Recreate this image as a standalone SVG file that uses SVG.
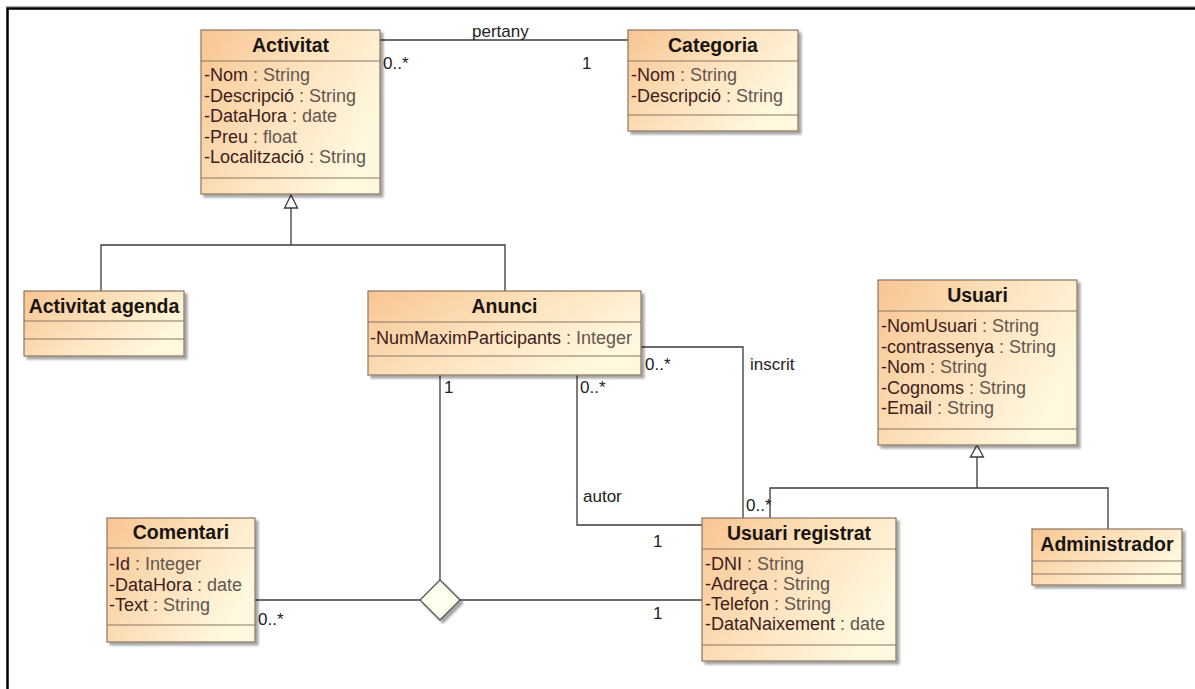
<svg xmlns="http://www.w3.org/2000/svg" width="1195" height="689" viewBox="0 0 1195 689">
<defs>
<linearGradient id="g" x1="0" y1="0" x2="1" y2="0.5">
<stop offset="0" stop-color="#F8C593"/>
<stop offset="0.55" stop-color="#FDE3BE"/>
<stop offset="1" stop-color="#FFF8DE"/>
</linearGradient>
<filter id="sh" x="-5%" y="-5%" width="115%" height="115%">
<feOffset dx="3" dy="3" in="SourceAlpha"/>
<feGaussianBlur stdDeviation="1.2"/>
<feComponentTransfer><feFuncA type="linear" slope="0.35"/></feComponentTransfer>
<feMerge><feMergeNode/><feMergeNode in="SourceGraphic"/></feMerge>
</filter>
</defs>
<style>
.box{fill:url(#g);stroke:#8a7662;stroke-width:1.2;filter:url(#sh)}
.div{stroke:#8a7662;stroke-width:1.2}
.ti{font-family:"Liberation Sans",Arial,sans-serif;font-weight:bold;font-size:19.5px;fill:#1a1410;text-anchor:middle}
.at{font-family:"Liberation Sans",Arial,sans-serif;font-size:18px}
.n{fill:#3d1c1c}
.t{fill:#635650}
.ln{fill:none;stroke:#3a3a3a;stroke-width:1.3}
.lb{font-family:"Liberation Sans",Arial,sans-serif;font-size:17px;fill:#222}
.tri{fill:#fff;stroke:#3a3a3a;stroke-width:1.3}
.dia{fill:#FFFFEE;stroke:#555;stroke-width:1.3;filter:url(#sh)}
</style>
<rect width="1195" height="689" fill="#fff"/>
<line x1="6" y1="6.5" x2="1195" y2="6.5" stroke="#aaa" stroke-width="1"/>
<path d="M7.5,689 V8.5 H1195" fill="none" stroke="#000" stroke-width="2.5"/>

<g id="connectors">
<line class="ln" x1="380" y1="40" x2="628" y2="40"/>
<text class="lb" x="472" y="37">pertany</text>
<text class="lb" x="383" y="69">0..*</text>
<text class="lb" x="582" y="69">1</text>

<polyline class="ln" points="291,208 291,245"/>
<polyline class="ln" points="101,291 101,245 505,245 505,291"/>
<polygon class="tri" points="291,195 284.5,208 297.5,208"/>

<polyline class="ln" points="977,457 977,488"/>
<polyline class="ln" points="770,518 770,488 1108,488 1108,529"/>
<polygon class="tri" points="977,445 970.5,457 983.5,457"/>

<polyline class="ln" points="641,347 743,347 743,518"/>
<text class="lb" x="645" y="370">0..*</text>
<text class="lb" x="750" y="370">inscrit</text>
<text class="lb" x="746" y="511">0..*</text>

<polyline class="ln" points="577,375 577,525 702,525"/>
<text class="lb" x="580" y="393">0..*</text>
<text class="lb" x="583" y="502">autor</text>
<text class="lb" x="653" y="547">1</text>

<line class="ln" x1="440" y1="375" x2="440" y2="580"/>
<text class="lb" x="444" y="393">1</text>
<line class="ln" x1="255" y1="600" x2="420" y2="600"/>
<line class="ln" x1="460" y1="600" x2="702" y2="600"/>
<text class="lb" x="258" y="625">0..*</text>
<text class="lb" x="653" y="619">1</text>
<polygon class="dia" points="440,580 460,600 440,620 420,600"/>
</g>

<g id="activitat">
<rect class="box" x="201" y="30" width="179" height="164"/>
<line class="div" x1="201" y1="61" x2="380" y2="61"/>
<line class="div" x1="201" y1="178" x2="380" y2="178"/>
<text class="ti" x="290.5" y="52">Activitat</text>
<text class="at" x="204" y="81"><tspan class="n">-Nom</tspan><tspan class="t"> : String</tspan></text>
<text class="at" x="204" y="101.5"><tspan class="n">-Descripció</tspan><tspan class="t"> : String</tspan></text>
<text class="at" x="204" y="122"><tspan class="n">-DataHora</tspan><tspan class="t"> : date</tspan></text>
<text class="at" x="204" y="142.5"><tspan class="n">-Preu</tspan><tspan class="t"> : float</tspan></text>
<text class="at" x="204" y="163"><tspan class="n">-Localització</tspan><tspan class="t"> : String</tspan></text>
</g>

<g id="categoria">
<rect class="box" x="628" y="30" width="170" height="101"/>
<line class="div" x1="628" y1="61" x2="798" y2="61"/>
<line class="div" x1="628" y1="115" x2="798" y2="115"/>
<text class="ti" x="713" y="52">Categoria</text>
<text class="at" x="631" y="81"><tspan class="n">-Nom</tspan><tspan class="t"> : String</tspan></text>
<text class="at" x="631" y="101.5"><tspan class="n">-Descripció</tspan><tspan class="t"> : String</tspan></text>
</g>

<g id="activitat-agenda">
<rect class="box" x="24" y="291" width="160" height="65"/>
<line class="div" x1="24" y1="321" x2="184" y2="321"/>
<line class="div" x1="24" y1="339" x2="184" y2="339"/>
<text class="ti" x="104" y="313">Activitat agenda</text>
</g>

<g id="anunci">
<rect class="box" x="368" y="291" width="273" height="84"/>
<line class="div" x1="368" y1="322" x2="641" y2="322"/>
<line class="div" x1="368" y1="356" x2="641" y2="356"/>
<text class="ti" x="504.5" y="313">Anunci</text>
<text class="at" x="370" y="344"><tspan class="n">-NumMaximParticipants</tspan><tspan class="t"> : Integer</tspan></text>
</g>

<g id="usuari">
<rect class="box" x="878" y="280" width="199" height="165"/>
<line class="div" x1="878" y1="311" x2="1077" y2="311"/>
<line class="div" x1="878" y1="429" x2="1077" y2="429"/>
<text class="ti" x="977.5" y="302">Usuari</text>
<text class="at" x="881" y="332"><tspan class="n">-NomUsuari</tspan><tspan class="t"> : String</tspan></text>
<text class="at" x="881" y="352.5"><tspan class="n">-contrassenya</tspan><tspan class="t"> : String</tspan></text>
<text class="at" x="881" y="373"><tspan class="n">-Nom</tspan><tspan class="t"> : String</tspan></text>
<text class="at" x="881" y="393.5"><tspan class="n">-Cognoms</tspan><tspan class="t"> : String</tspan></text>
<text class="at" x="881" y="414"><tspan class="n">-Email</tspan><tspan class="t"> : String</tspan></text>
</g>

<g id="comentari">
<rect class="box" x="107" y="518" width="148" height="124"/>
<line class="div" x1="107" y1="548" x2="255" y2="548"/>
<line class="div" x1="107" y1="625" x2="255" y2="625"/>
<text class="ti" x="181" y="539">Comentari</text>
<text class="at" x="109" y="570"><tspan class="n">-Id</tspan><tspan class="t"> : Integer</tspan></text>
<text class="at" x="109" y="590.5"><tspan class="n">-DataHora</tspan><tspan class="t"> : date</tspan></text>
<text class="at" x="109" y="611"><tspan class="n">-Text</tspan><tspan class="t"> : String</tspan></text>
</g>

<g id="usuari-registrat">
<rect class="box" x="702" y="518" width="194" height="143"/>
<line class="div" x1="702" y1="549" x2="896" y2="549"/>
<line class="div" x1="702" y1="645" x2="896" y2="645"/>
<text class="ti" x="799" y="540">Usuari registrat</text>
<text class="at" x="705" y="570"><tspan class="n">-DNI</tspan><tspan class="t"> : String</tspan></text>
<text class="at" x="705" y="590"><tspan class="n">-Adreça</tspan><tspan class="t"> : String</tspan></text>
<text class="at" x="705" y="610"><tspan class="n">-Telefon</tspan><tspan class="t"> : String</tspan></text>
<text class="at" x="705" y="630"><tspan class="n">-DataNaixement</tspan><tspan class="t"> : date</tspan></text>
</g>

<g id="administrador">
<rect class="box" x="1032" y="529" width="150" height="56"/>
<line class="div" x1="1032" y1="561" x2="1182" y2="561"/>
<line class="div" x1="1032" y1="574" x2="1182" y2="574"/>
<text class="ti" x="1107" y="551">Administrador</text>
</g>
</svg>
